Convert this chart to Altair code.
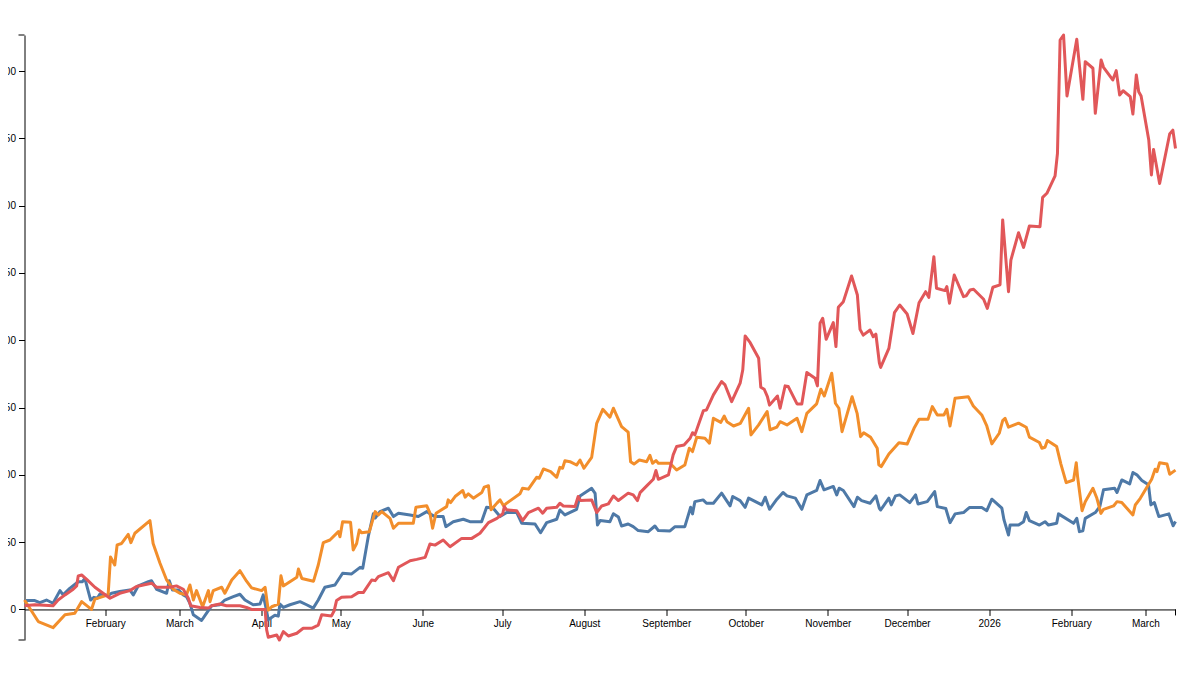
import altair as alt
import pandas as pd

START = pd.Timestamp("2025-01-01")

# ---- series: day offset from 2025-01-01, value ----
blue_days = [0.5, 4.4, 6.3, 8.8, 11.3, 13.9, 15.1, 17.6, 20.8, 22.4, 23.3, 25.5, 26.7, 28, 29, 32.1, 33.4, 36.5, 40.3, 41.6,
             43.5, 47.3, 48.5, 50.4, 54.2, 55.2, 56.4, 58.6, 60.5, 61.7, 63, 64.3, 67.4, 69.3, 71.2, 74.3, 76.2, 79.4, 81.9, 83.8,
             86.9, 89.5, 90.7, 91.7, 92.6, 95.1, 96.4, 97, 98.3, 100.8, 104.6, 107.1, 109.6, 111.5, 114, 117.8, 120.7, 124.1, 127.3, 128.3,
             130.4, 132.3, 133, 134.8, 138, 139.9, 141.8, 146.2, 149.3, 152.5, 153.7, 155.6, 158.7, 159.7, 162.5, 166.3, 168.8, 173.2, 175.1, 177.6,
             180.2, 182.7, 186.5, 188.4, 193.4, 195.5, 197.8, 201.6, 202.8, 204.7, 209.1, 210.4, 214.8, 216.1, 217, 218, 221.7, 223, 224.9, 226.1,
             228.6, 230.5, 232.4, 236.2, 238.7, 240, 244.4, 246.3, 250, 252.2, 252.9, 253.8, 256.9, 258.2, 260.8, 263.9, 267.1, 268.1, 270.9, 272.8,
             274.1, 279.1, 280.4, 282, 284.8, 287.1, 288.6, 291.8, 294.2, 296.1, 299.8, 301.1, 302.6, 306.1, 307.4, 308.3, 309.9, 313.9, 315.2, 316.8,
             320, 322.2, 323.5, 324, 327.1, 328, 329.6, 331.2, 335, 337.2, 338.1, 341.6, 344.4, 345.4, 348.6, 350.2, 352.1, 355.3, 357.5, 362.2,
             364.1, 366, 369.8, 370.6, 372.3, 372.9, 376.1, 378, 379, 380.2, 384, 386.1, 387.4, 390.5, 391.2, 396.9, 398.1, 399.1, 400.4, 401.3,
             405.1, 406.8, 408.2, 412.4, 413.3, 415.1, 418.1, 419.3, 420.8, 422.7, 425.2, 426.1, 427.4, 429.1, 432.9, 434.5, 435.4]
blue_vals = [6.6, 6.6, 5, 7, 4.6, 14, 10.8, 15.7, 20.6, 20.6, 23.1, 7, 9, 8.3, 11.5, 10.3, 12, 13.3, 14.5, 10.8,
             17.5, 20.6, 21.3, 15, 12, 21.3, 14.5, 14.5, 10.8, 9.5, 4.6, -4, -8.2, -2.8, 2.7, 3.5, 7, 9.5, 11.3, 7,
             3.5, 4, 10.8, 1.5, -7.6, -4.3, -5, 4, 1.5, 3.5, 5.8, 3.5, 1, 7, 16.5, 18.2, 26.9, 26.4, 31.3, 30.6,
             54.2, 71.1, 67.9, 72.7, 75.2, 69, 71.5, 70.2, 69, 72.7, 71, 69, 69, 61.5, 65.2, 67, 65.2, 65.2, 75.9, 75.2,
             69, 72, 72, 64, 63.5, 57, 64.5, 67, 73.9, 70.2, 74.4, 84.3, 90, 86.2, 62.7, 66, 65.2, 71.1, 68.6, 62,
             63.5, 61.5, 58.6, 57.8, 62, 58.6, 58.3, 61.5, 61.5, 75.9, 71, 80.1, 81.4, 78.9, 78.9, 86.4, 77, 83.9, 80.9, 75.9,
             82.7, 77.7, 83.4, 74.4, 81.9, 86.9, 84.4, 82.7, 74.4, 85.1, 88.4, 95.8, 88.9, 91.4, 85.1, 90.1, 88.4, 76.4, 83.4, 80.9,
             78.9, 84.4, 75.2, 73.9, 82.7, 77.7, 84.4, 85.1, 79.4, 85.1, 78.4, 80.1, 87.6, 76.4, 75, 64.5, 71, 72, 75.7, 75.7,
             73.4, 81.9, 75.2, 66.5, 55.3, 62.7, 62.7, 65.2, 72, 66, 62.7, 65.2, 62.7, 64, 71, 64, 67.7, 57.8, 58.5, 67.7,
             72, 76.4, 88.9, 90.1, 86.9, 96.2, 93.3, 101.7, 100, 95.8, 92.6, 77.7, 79.4, 69, 71, 62.2, 65.4]

orange_days = [0.5, 5.7, 11.3, 15.8, 19.5, 22.1, 25.8, 27.1, 32.1, 33, 34.6, 35.5, 37.2, 39.7, 40.7, 42.2, 47.9, 49.1, 51.7, 54.2,
               56.7, 59.2, 61.7, 63, 64.3, 65.5, 67.8, 70, 70.6, 71.8, 75, 76.2, 78.8, 81.9, 84.4, 86.3, 90.1, 91.4, 92.6, 93.9,
               96.4, 97.4, 98.3, 103.4, 104, 105.3, 109.7, 111.5, 113.4, 115.9, 119.1, 119.7, 120.7, 123.7, 124.7, 126, 127, 127.9, 130.8, 133,
               134.2, 135.5, 138.6, 139.9, 141.8, 147.4, 148.4, 152.5, 153.7, 154.7, 156, 160, 160.6, 161.5, 163.2, 166.1, 167, 168.2, 170.1, 173.3,
               174.2, 175.8, 176.8, 179, 180.2, 181.5, 182.7, 187.7, 188.7, 190.9, 194, 195, 196.6, 199.3, 201.6, 202.8, 203.8, 204.7, 206.6, 209.1,
               210.4, 211.9, 214.8, 216.7, 219, 221.7, 223, 226.1, 228.6, 229.5, 230.8, 232.8, 235.6, 236.8, 237.8, 239.1, 240, 244.4, 246.9, 250,
               251.7, 252.9, 254.5, 257.6, 259.3, 260.8, 263.6, 264.9, 265.9, 268.4, 271, 274.1, 275, 277.9, 281.1, 282.2, 284.8, 286, 288.6, 292.4,
               294.2, 296.1, 299.8, 301.4, 302.7, 305.5, 306.9, 308.2, 309.4, 313.2, 315.1, 316.4, 317.6, 320.2, 322.7, 323.3, 324.2, 327.1, 330.9, 334,
               336.6, 338.5, 341.9, 343.5, 345.4, 347.9, 349, 350.2, 352.1, 357.1, 359, 362.2, 364.1, 366, 368.8, 370.1, 371, 372.3, 376.1, 379,
               380.2, 384, 384.9, 386.1, 387, 390.5, 392.1, 394.1, 396.9, 397.9, 398.4, 400.1, 401.3, 404.2, 405.7, 407.2, 408.2, 412, 413.3, 415.1,
               419.3, 420.2, 422.1, 426.4, 427.7, 428.4, 429.4, 432.2, 433.2, 435.4]
orange_vals = [7, -9, -13.5, -4, -2.8, 5.8, 0, 7.7, 10.8, 39, 33, 48, 49, 55.8, 49.6, 56.6, 66, 49, 34.3, 21.9,
               15, 12, 10.8, 18.2, 7, 14, 2, 14, 5.8, 14, 16.5, 12, 21.9, 28.8, 21, 16, 14, 16.5, -0.5, 2,
               4, 25, 17.5, 23.9, 30, 23, 21, 33, 49.6, 51.6, 57.8, 54, 65.2, 64.7, 44.2, 49, 59, 57, 57.8, 72.7,
               70.2, 72.7, 67.7, 60.3, 64, 64, 75.9, 77, 71.5, 60.3, 71.5, 76.4, 81.4, 79.4, 83.9, 88.4, 83.4, 85.9, 82.7, 86.9,
               90.9, 91.9, 74, 79, 81.4, 77, 79, 85.9, 90.1, 89.4, 98.2, 97.5, 104.4, 102.4, 98.2, 105.6, 104.9, 110.5, 109.8, 107.3,
               111, 104.9, 113, 138.3, 148.7, 142.8, 149.5, 135.9, 131.7, 109.8, 108, 111, 109.8, 114.5, 108.6, 110.6, 108.6, 108.6, 103.6, 107.3,
               119.8, 117.3, 127.9, 127.2, 123.5, 142, 139, 143.7, 139.5, 136.3, 138.3, 149.5, 129.7, 137.1, 147, 133.5, 135.5, 139.5, 137.1, 142,
               132.1, 145.7, 152.7, 163.6, 158.6, 175.5, 153.2, 149.5, 132.1, 158, 145.7, 128.4, 131.3, 127.9, 119.8, 107.4, 106.1, 115.5, 123.9, 122.9,
               134.6, 141.3, 141.3, 150.7, 144.5, 144.5, 148.7, 136.3, 156.9, 158.1, 151.2, 144.5, 136.3, 123, 130.9, 140.3, 142, 135.4, 138.4, 135.4,
               128, 124, 119.8, 120.5, 125.5, 121, 108, 94.2, 96.2, 109, 98.7, 73.4, 80.1, 90, 82.6, 71.4, 74.4, 76.9, 80.1, 79.4,
               70.2, 77.6, 82.6, 96.7, 104.2, 102.4, 109, 108, 100.5, 103.5]

red_days = [0.5, 4.4, 11.3, 13.2, 15.8, 18.9, 20.2, 20.8, 22.1, 24, 27.1, 30.2, 32.8, 36.5, 40.3, 42.8, 45.4, 48.5, 50.4, 55.4,
            57.9, 60.5, 62.4, 63.3, 66.8, 70, 71.2, 74.3, 76.8, 81.9, 84.4, 86.3, 91.4, 92, 92.6, 95.8, 96.8, 98.3, 100.2, 103.4,
            105.8, 109, 111.5, 112.8, 116.5, 117.5, 118.4, 120.3, 124.1, 126.6, 128.5, 131.7, 133, 134.2, 138, 139.9, 141.8, 146.2, 148.7, 151.9,
            153.7, 155.6, 158.7, 161.3, 165.7, 169.5, 172.6, 175.8, 179, 181.2, 181.8, 182.7, 186.5, 188.7, 190.9, 194.7, 196.3, 197.8, 201.6, 202.8,
            204.1, 208.5, 209.7, 210.6, 214.8, 216.7, 218.6, 221.1, 223, 224.9, 228.6, 230.5, 232.1, 233.1, 235.6, 238.1, 239.1, 240, 243.8, 245.6,
            246.9, 249.7, 252, 252.9, 253.8, 257, 258.2, 260.8, 263.9, 265.2, 267.7, 270.9, 271.9, 272.8, 274.7, 277.9, 278.7, 280, 281.2, 282,
            285, 286, 287.9, 289.1, 292.4, 294.2, 296.1, 299.2, 300.1, 301.1, 302.1, 303.4, 306.1, 307.1, 308, 309.9, 313, 315.2, 316.2, 317.4,
            320, 321.2, 322.2, 323.5, 324, 327.1, 329.2, 331.2, 334, 336.2, 338.5, 341, 342.2, 344.1, 345.1, 348.3, 349, 350, 351.8, 355.3,
            356.3, 357.8, 359.1, 362.9, 364.3, 366.4, 369.1, 370.1, 372.3, 373.2, 376.1, 378, 380.2, 384.2, 385.2, 386.8, 389.9, 390.8, 391.8, 393.1,
            394.4, 398.1, 400.4, 401.3, 404.2, 405.1, 407.3, 408.2, 411.7, 413, 414.3, 415.6, 418.3, 419.3, 420.6, 421.5, 422.4, 425.3, 426.3, 427.1,
            429.4, 433.2, 434.4, 435.4]
red_vals = [2.7, 3.5, 2.7, 7, 10.8, 15, 17.5, 24.9, 25.6, 22.4, 16.5, 12, 8.3, 12, 14, 17, 18.2, 19.5, 16.5, 16.5,
            17.5, 15, 8.3, 2.7, 1.5, 1, 2.7, 4, 2.7, 2.7, 1.5, 0, 0, -15.2, -20.6, -19, -22.7, -16.5, -19.7, -17.7,
            -14, -14, -11.6, -4, -4.8, -1, 6.6, 9, 9.5, 12.5, 12.5, 21.9, 21.4, 24.4, 27.3, 21.4, 31.3, 36.2, 37.2, 38.7,
            48.6, 47.8, 51.6, 46.6, 52.8, 52.8, 56.6, 64.5, 67.7, 71.1, 76.4, 74, 73.4, 66, 72, 75.2, 71.5, 75.2, 75.9, 78.9,
            76.9, 76.4, 83.9, 80.9, 81.4, 72, 76.9, 78.4, 84.3, 80.9, 86.4, 85.1, 80.9, 86.8, 91.8, 96.7, 103.2, 96.7, 99.9, 114.8,
            121.1, 122.2, 127.2, 131.3, 129.7, 147.7, 148.2, 159.4, 169.3, 166.8, 154.4, 168.1, 178.1, 203.2, 198.2, 186.6, 165.1, 163.6, 158.1, 151.8,
            158.6, 149.5, 166.1, 165.6, 152.7, 152.7, 176, 171.8, 166.1, 212.6, 216.3, 200.7, 213.1, 195.3, 224.5, 228.7, 247.8, 233.6, 208.1, 203.8,
            207.6, 202.6, 204.5, 183.3, 179.8, 193.9, 220.5, 226.2, 219.5, 205, 227.9, 236.1, 231.9, 262.1, 238.6, 236.9, 239.9, 227.5, 248.5, 232.4,
            233, 237.4, 237.9, 230.5, 223.7, 239.4, 241.2, 289.4, 236.1, 259.6, 279.9, 269, 284.9, 284.4, 306.2, 309.2, 322.1, 338.9, 423.1, 426.8,
            381.5, 423.6, 379, 407, 402.1, 368.6, 408.3, 402.8, 393.4, 400.3, 382.2, 385.4, 381, 368.1, 397.1, 384.7, 381.5, 348.8, 322.8, 341.8,
            316.5, 353.2, 356.1, 342.5]

y_ticks = [0, 50, 100, 150, 200, 250, 300, 350, 400]

series_names = ["blue", "orange", "red"]
series_colors = ["#4e79a7", "#f28e2b", "#e15759"]


def to_dates(days):
    return [(START + pd.to_timedelta(d, unit="D")).strftime("%Y-%m-%dT%H:%M:%S") for d in days]


frames = {
    "blue": pd.DataFrame({"date": to_dates(blue_days), "value": blue_vals, "series": "blue"}),
    "orange": pd.DataFrame({"date": to_dates(orange_days), "value": orange_vals, "series": "orange"}),
    "red": pd.DataFrame({"date": to_dates(red_days), "value": red_vals, "series": "red"}),
}

all_vals = blue_vals + orange_vals + red_vals
y_min, y_max = min(all_vals), max(all_vals)

W, H = 1151, 605
zero_px = H * (y_max - 0) / (y_max - y_min)
x_axis_offset = zero_px - H  # negative: move the x axis up to y = 0

FONT = "Liberation Sans"

x_enc = alt.X(
    "date:T",
    title=None,
    scale=alt.Scale(nice=False),
    axis=alt.Axis(
        tickCount={"interval": "month", "step": 1},
        grid=False,
        offset=x_axis_offset,
        domainColor="#000",
        tickColor="#000",
        tickSize=6,
        labelPadding=3,
        labelFont=FONT,
        labelFontSize=10,
        labelColor="#000",
        labelFlush=False,
        labelOverlap=False,
    ),
)
y_enc = alt.Y(
    "value:Q",
    title=None,
    scale=alt.Scale(domain=[y_min, y_max], nice=False, zero=False),
    axis=alt.Axis(
        values=y_ticks,
        grid=False,
        domainColor="#000",
        tickColor="#000",
        tickSize=6,
        labelPadding=3,
        labelFont=FONT,
        labelFontSize=10,
        labelColor="#000",
        labelFlush=False,
    ),
)
color_enc = alt.Color(
    "series:N",
    scale=alt.Scale(domain=series_names, range=series_colors),
    legend=None,
)

layers = []
for name in series_names:
    layers.append(
        alt.Chart(frames[name])
        .mark_line(strokeWidth=3, strokeJoin="round")
        .encode(x=x_enc, y=y_enc, color=color_enc)
    )

# outer ticks of the axes (d3 style)
ends_y = pd.DataFrame({"v": [y_min, y_max]})
outer_y = alt.Chart(ends_y).mark_rule(color="#000", strokeWidth=1).encode(
    y=alt.Y("v:Q"), x=alt.value(-6), x2=alt.value(0)
)
ends_x = pd.DataFrame({"date": [to_dates([max(blue_days)])[0]], "zero": [0]})
outer_x = alt.Chart(ends_x).mark_rule(color="#000", strokeWidth=1, y2Offset=6).encode(
    x=alt.X("date:T"), y=alt.Y("zero:Q"), y2=alt.Y2("zero:Q")
)

chart = (
    alt.layer(*layers, outer_y, outer_x)
    .properties(
        width=W,
        height=H,
        background="white",
        autosize=alt.AutoSizeParams(type="none"),
        padding={"left": 16.5, "top": 27, "right": 16, "bottom": 12},
    )
    .configure_view(stroke="transparent", strokeWidth=0)
)

chart.save("out.html", embed_options={"renderer": "svg", "actions": False})
